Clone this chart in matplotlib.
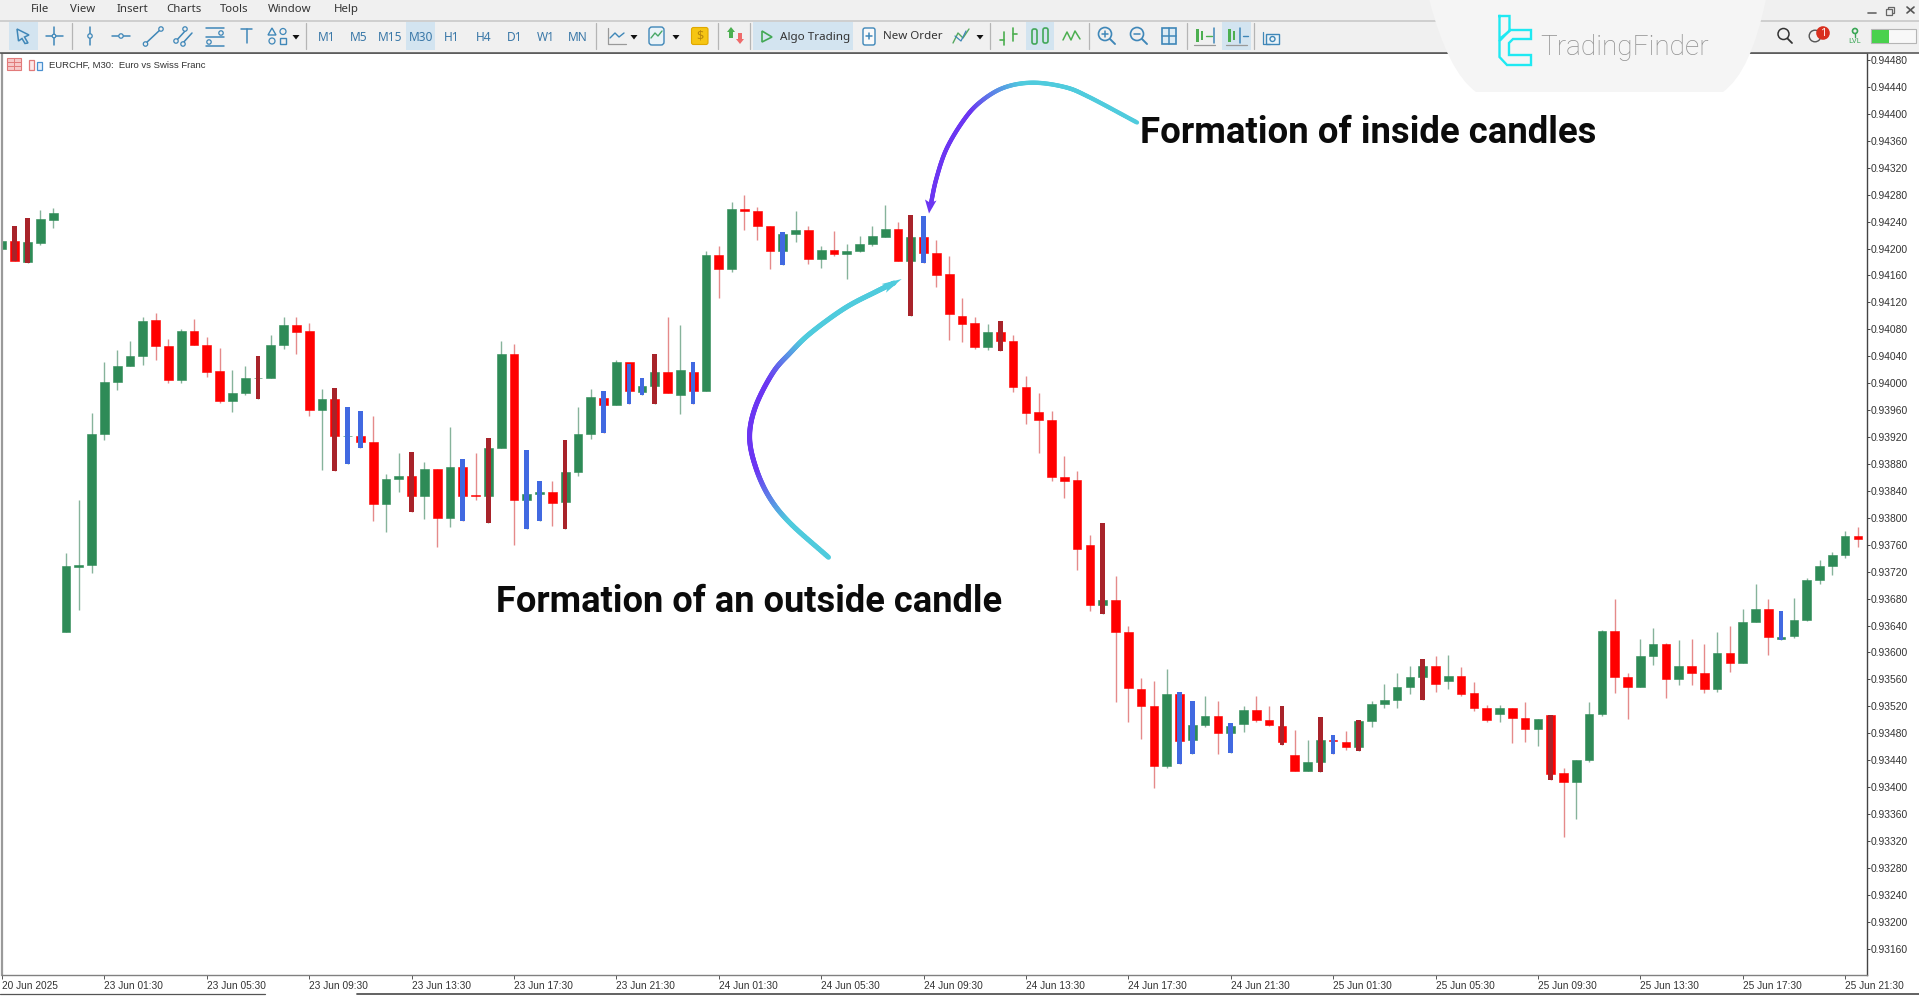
import matplotlib
matplotlib.use("Agg")
import matplotlib.pyplot as plt
import numpy as np
from matplotlib.collections import LineCollection
from matplotlib.colors import to_rgb
from matplotlib.patches import Circle, FancyBboxPatch, PathPatch, Polygon, Rectangle
from matplotlib.path import Path

# EURCHF M30 prices in points (1e-5), one value per bar
opens = [94199, 94211, 94180, 94208, 94242, 93630, 93727, 93730, 93924, 94001,
         94026, 94041, 94094, 94055, 94005, 94077, 94057, 94018, 93973, 93985,
         94008, 94008, 94057, 94087, 94077, 93960, 93977, 93922, 93922, 93913,
         93821, 93858, 93862, 93833, 93873, 93799, 93876, 93834, 93832, 93904,
         94044, 93827, 93836, 93838, 93823, 93868, 93924, 93978, 93967, 94031,
         93987, 93996, 94016, 93982, 94016, 93988, 94190, 94170, 94259, 94256,
         94233, 94197, 94222, 94227, 94184, 94198, 94192, 94196, 94207, 94217,
         94229, 94182, 94217, 94193, 94162, 94100, 94089, 94054, 94076, 94063,
         93995, 93957, 93946, 93861, 93856, 93760, 93671, 93678, 93631, 93545,
         93520, 93431, 93539, 93470, 93492, 93505, 93481, 93493, 93514, 93500,
         93491, 93447, 93424, 93437, 93470, 93467, 93460, 93498, 93524, 93529,
         93548, 93564, 93580, 93558, 93565, 93540, 93518, 93508, 93518, 93503,
         93486, 93507, 93421, 93407, 93440, 93508, 93632, 93563, 93548, 93594,
         93612, 93561, 93580, 93570, 93546, 93599, 93585, 93645, 93664, 93620,
         93625, 93648, 93707, 93729, 93745, 93773]
highs = [94211, 94233, 94245, 94257, 94260, 93747, 93826, 93955, 94032, 94049,
         94062, 94098, 94104, 94065, 94080, 94096, 94068, 94052, 94019, 94025,
         94041, 94072, 94098, 94098, 94089, 93991, 93993, 93964, 93959, 93951,
         93865, 93896, 93898, 93883, 93873, 93935, 93888, 93897, 93919, 94063,
         94058, 93900, 93855, 93854, 93916, 93964, 93991, 93989, 94035, 94029,
         94008, 94043, 94099, 94087, 94031, 94197, 94203, 94269, 94279, 94262,
         94233, 94225, 94256, 94233, 94203, 94226, 94206, 94219, 94233, 94265,
         94240, 94250, 94248, 94213, 94189, 94127, 94098, 94088, 94093, 94072,
         94011, 93986, 93958, 93892, 93869, 93775, 93793, 93713, 93639, 93562,
         93557, 93575, 93541, 93528, 93536, 93528, 93495, 93521, 93535, 93520,
         93521, 93485, 93470, 93504, 93478, 93484, 93499, 93528, 93553, 93569,
         93580, 93590, 93595, 93596, 93579, 93556, 93522, 93522, 93518, 93527,
         93501, 93507, 93428, 93440, 93527, 93634, 93680, 93570, 93620, 93636,
         93614, 93619, 93620, 93613, 93630, 93639, 93664, 93702, 93680, 93661,
         93681, 93710, 93738, 93749, 93780, 93786]
lows = [94199, 94182, 94178, 94205, 94230, 93630, 93663, 93718, 93916, 93990,
        94026, 94027, 94034, 94000, 94000, 94057, 94009, 93970, 93957, 93982,
        93977, 94008, 94050, 94043, 93951, 93871, 93870, 93880, 93903, 93796,
        93779, 93838, 93808, 93798, 93756, 93787, 93796, 93826, 93793, 93904,
        93760, 93783, 93796, 93788, 93783, 93862, 93917, 93926, 93967, 93969,
        93982, 93969, 93986, 93954, 93969, 93988, 94127, 94165, 94228, 94213,
        94170, 94175, 94209, 94177, 94171, 94189, 94155, 94195, 94203, 94217,
        94182, 94100, 94179, 94143, 94064, 94061, 94050, 94049, 94048, 93987,
        93940, 93896, 93854, 93829, 93722, 93661, 93657, 93527, 93496, 93472,
        93398, 93429, 93435, 93449, 93490, 93449, 93450, 93482, 93496, 93491,
        93463, 93424, 93424, 93422, 93449, 93455, 93454, 93490, 93517, 93517,
        93538, 93530, 93542, 93545, 93536, 93513, 93496, 93497, 93466, 93467,
        93461, 93411, 93326, 93353, 93437, 93506, 93540, 93501, 93548, 93582,
        93532, 93552, 93552, 93540, 93542, 93571, 93585, 93645, 93596, 93619,
        93622, 93646, 93701, 93715, 93741, 93756]
closes = [94211, 94182, 94209, 94244, 94253, 93728, 93730, 93924, 94001, 94026,
          94041, 94093, 94055, 94005, 94077, 94057, 94017, 93973, 93986, 94008,
          94008, 94057, 94087, 94076, 93960, 93977, 93922, 93922, 93913, 93821,
          93858, 93862, 93833, 93873, 93799, 93876, 93833, 93832, 93904, 94044,
          93827, 93836, 93839, 93822, 93868, 93925, 93979, 93967, 94031, 93988,
          93996, 94016, 93986, 94020, 93988, 94190, 94170, 94259, 94255, 94233,
          94197, 94221, 94227, 94184, 94198, 94192, 94196, 94207, 94218, 94229,
          94182, 94217, 94193, 94161, 94102, 94088, 94054, 94076, 94063, 93994,
          93956, 93945, 93860, 93855, 93754, 93671, 93678, 93630, 93547, 93520,
          93431, 93539, 93469, 93492, 93505, 93481, 93491, 93514, 93499, 93492,
          93467, 93424, 93437, 93470, 93468, 93460, 93498, 93524, 93530, 93548,
          93564, 93580, 93553, 93565, 93539, 93518, 93500, 93518, 93503, 93486,
          93501, 93420, 93407, 93440, 93508, 93632, 93563, 93548, 93595, 93612,
          93561, 93580, 93570, 93546, 93599, 93585, 93645, 93664, 93623, 93623,
          93648, 93707, 93729, 93745, 93773, 93768]

# bars the indicator paints
inside_bars = [27, 28, 36, 41, 42, 47, 49, 50, 54, 61, 72, 92, 93, 96, 104, 139]
outside_bars = [1, 2, 20, 26, 32, 38, 44, 51, 71, 78, 86, 100, 103, 106, 111, 121]

y_ticks = [0.94480, 0.94440, 0.94400, 0.94360, 0.94320, 0.94280, 0.94240, 0.94200,
           0.94160, 0.94120, 0.94080, 0.94040, 0.94000, 0.93960, 0.93920, 0.93880,
           0.93840, 0.93800, 0.93760, 0.93720, 0.93680, 0.93640, 0.93600, 0.93560,
           0.93520, 0.93480, 0.93440, 0.93400, 0.93360, 0.93320, 0.93280, 0.93240,
           0.93200, 0.93160]
x_labels = ["20 Jun 2025", "23 Jun 01:30", "23 Jun 05:30", "23 Jun 09:30", "23 Jun 13:30",
            "23 Jun 17:30", "23 Jun 21:30", "24 Jun 01:30", "24 Jun 05:30", "24 Jun 09:30",
            "24 Jun 13:30", "24 Jun 17:30", "24 Jun 21:30", "25 Jun 01:30", "25 Jun 05:30",
            "25 Jun 09:30", "25 Jun 13:30", "25 Jun 17:30", "25 Jun 21:30"]

GREEN, RED = "#2e8b57", "#ff0000"
BLUE, DARK_RED = "#4169e1", "#a8232a"
WICK_G, WICK_R = "#86b39b", "#e58a8a"
ICON = "#3f87b8"
W, H = 1919, 996
UI_FONT = "Noto Sans"
TICK_FONT = "Liberation Sans"

fig = plt.figure(figsize=(W / 100, H / 100), dpi=100, facecolor="white")

# chart area, prices through the axes' own scale
L, R, T, B = 2, 1866.5, 53, 975
ax = fig.add_axes([L / W, 1 - B / H, (R - L) / W, (B - T) / H])
n = np.arange(len(opens))
o, h, l, c = [np.array(v) / 1e5 for v in (opens, highs, lows, closes)]
up = c >= o

ax.vlines(n[up], l[up], h[up], color=WICK_G, lw=1.0, zorder=1)
ax.vlines(n[~up], l[~up], h[~up], color=WICK_R, lw=1.0, zorder=1)
bottoms = np.minimum(o, c)
heights = np.abs(c - o)
ax.bar(n[up], heights[up], 0.68, bottoms[up], color=GREEN, ec=GREEN, lw=0.4, zorder=2)
ax.bar(n[~up], heights[~up], 0.68, bottoms[~up], color=RED, ec=RED, lw=0.4, zorder=2)
ax.bar(inside_bars, h[inside_bars] - l[inside_bars], 0.36, l[inside_bars], color=BLUE, zorder=3)
ax.bar(outside_bars, h[outside_bars] - l[outside_bars], 0.36, l[outside_bars], color=DARK_RED, zorder=3)

px_to_price = 0.0004 / 26.93
ax.set_ylim(0.94480 - (B - 60) * px_to_price, 0.94480 - (T - 60) * px_to_price)
ax.set_xlim((L - 1.9) / 12.8, (R - 1.9) / 12.8)
ax.yaxis.tick_right()
ax.set_yticks(y_ticks)
ax.set_yticklabels([f"{v:.5f}" for v in y_ticks], fontsize=7.4, family=TICK_FONT, color="#333333")
ax.set_xticks(np.arange(len(x_labels)) * 8)
ax.set_xticklabels(x_labels, fontsize=7.3, family=TICK_FONT, color="#333333", ha="left")
ax.tick_params(axis="y", length=2, width=0.7, pad=0.7, color="#444444")
ax.tick_params(axis="x", length=3, width=0.7, pad=1.2, color="#555555")
for side, col, lw in (("left", "#9a9a9a", 1.6), ("bottom", "#808080", 1.0),
                      ("top", "#555555", 1.2), ("right", "#444444", 1.0)):
    ax.spines[side].set_color(col)
    ax.spines[side].set_linewidth(lw)

# everything else is placed in screen pixels on a full figure layer
ui = fig.add_axes([0, 0, 1, 1], facecolor="none")
ui.set_xlim(0, W)
ui.set_ylim(H, 0)
ui.axis("off")


def rect(x0, y0, x1, y1, fc, ec="none", lw=0, z=2):
    ui.add_patch(Rectangle((x0, y0), x1 - x0, y1 - y0, fc=fc, ec=ec, lw=lw, zorder=z))


def line(xs, ys, col=ICON, lw=1.1, z=5):
    ui.plot(xs, ys, color=col, lw=lw, zorder=z, solid_capstyle="round")


def dot(x, y, r=2.2, col=ICON, fc="#f0f0f0", lw=0.9):
    ui.add_patch(Circle((x, y), r, fc=fc, ec=col, lw=lw, zorder=5.5))


def tri_down(x, y, col="#111111"):
    ui.add_patch(Polygon([(x - 3.5, y - 2), (x + 3.5, y - 2), (x, y + 2.5)], fc=col, zorder=4))


def smooth(points, steps=24):
    # catmull-rom through the hand placed points
    p = np.array(points, float)
    p = np.vstack([2 * p[0] - p[1], p, 2 * p[-1] - p[-2]])
    out = []
    for i in range(1, len(p) - 2):
        for t in np.linspace(0, 1, steps, endpoint=False):
            out.append(0.5 * (2 * p[i] + (p[i + 1] - p[i - 1]) * t
                              + (2 * p[i - 1] - 5 * p[i] + 4 * p[i + 1] - p[i + 2]) * t ** 2
                              + (3 * p[i] - p[i - 1] - 3 * p[i + 1] + p[i + 2]) * t ** 3))
    out.append(p[-2])
    return np.array(out)


def gradient_curve(points, stops, width):
    xy = smooth(points)
    frac = np.linspace(0, 1, len(xy) - 1)
    cols = np.array([to_rgb(s[1]) for s in stops])
    where = [s[0] for s in stops]
    rgb = np.column_stack([np.interp(frac, where, cols[:, k]) for k in range(3)])
    segs = np.stack([xy[:-1], xy[1:]], axis=1)
    ui.add_collection(LineCollection(segs, colors=rgb, linewidths=width, capstyle="round", zorder=6))


# window chrome
rect(0, 0, W, 20, "#f0f0f0")
rect(0, 20, W, 52.5, "#f0f0f0")
line([0, W], [20.5, 20.5], "#c9c9c9", 1.2, 3)
line([0, W], [52.8, 52.8], "#5a5a5a", 1.2, 3)
line([0, 265], [994, 994], "#555555", 0.9, 3)
line([357, W], [994, 994], "#555555", 1.3, 3)

for name, x in zip(["File", "View", "Insert", "Charts", "Tools", "Window", "Help"],
                   [31, 70, 117, 166, 220, 268, 334]):
    ui.text(x, 9.5, name, fontsize=8.2, family=UI_FONT, color="#333333", va="center", zorder=5)

# highlighted buttons
for x0, x1 in [(9, 37.5), (406, 435), (753, 853), (1026, 1053.5), (1222, 1251)]:
    rect(x0, 22, x1, 49.5, "#d3e4f0", z=2.5)

for name, x in zip(["M1", "M5", "M15", "M30", "H1", "H4", "D1", "W1", "MN"],
                   [327, 359, 390, 421, 452, 484, 515, 546, 578]):
    ui.text(x, 37, name, fontsize=8.6, family=UI_FONT, color="#3a78a8", ha="center", va="center", zorder=5)

for x in [72, 717.5, 750, 990, 1089, 1187, 1254, 306, 596]:
    line([x, x], [23, 49], "#b5b5b5", 0.9, 3)

# drawing tools
ui.add_patch(Polygon([(17, 29), (29, 35), (24.5, 37), (28, 43), (25, 43.5), (22, 38.5), (18.5, 41)],
                     fc="none", ec=ICON, lw=1.1, zorder=4))
line([54, 54], [27, 45]); line([46, 63], [36, 36]); dot(54, 36, 1.8)
line([90, 90], [27, 45]); dot(90, 36)
line([112, 130], [36, 36]); dot(121, 36)
line([145, 161], [44, 29]); dot(145.5, 44); dot(161, 29)
line([176, 186], [41, 30]); line([182, 192], [44, 33]); dot(176, 41); dot(185, 29); dot(183, 44)
for y0, x1 in [(28, 224), (37, 224), (46, 224)]:
    line([206, x1], [y0, y0])
dot(221, 33); dot(209, 42)
line([241, 252], [29, 29]); line([246.5, 246.5], [29, 43])
ui.add_patch(Polygon([(268, 35), (276, 35), (272, 28)], fc="none", ec=ICON, lw=1, zorder=4))
dot(283, 31.5, 3); dot(272, 41, 3)
rect(279.5, 38, 286, 44, "none", ICON, 1, 4)
tri_down(296, 37)

# chart type, money and trading buttons
line([608, 608, 626], [28, 44, 44], "#999999", 0.9)
line([610, 615, 619, 624], [38, 33, 37, 33], ICON, 1)
tri_down(634, 37)
ui.add_patch(FancyBboxPatch((649, 27), 15, 18, boxstyle="round,pad=0,rounding_size=3", fc="#eaf3f8", ec=ICON, lw=1, zorder=4))
line([651, 655, 658, 662], [38, 33, 36, 31], "#48a868", 1)
tri_down(676, 37)
ui.add_patch(FancyBboxPatch((691.5, 27.5), 16.5, 17, boxstyle="round,pad=0,rounding_size=2", fc="#f6c513", ec="#e0a800", lw=0.8, zorder=4))
ui.text(699.7, 36, "$", fontsize=9, family=UI_FONT, color="#b8860b", ha="center", va="center", zorder=5)
ui.add_patch(Polygon([(731, 27), (735, 32), (733, 32), (733, 38), (729, 38), (729, 32), (727, 32)], fc="#4caf50", zorder=4))
ui.add_patch(Polygon([(740, 44), (744, 39), (742, 39), (742, 33), (738, 33), (738, 39), (736, 39)], fc="#ef6b6b", zorder=4))
ui.add_patch(Polygon([(762, 31), (772, 37), (762, 42)], fc="none", ec="#43a855", lw=1.2, zorder=4))
ui.text(780, 37, "Algo Trading", fontsize=8.4, family=UI_FONT, color="#333333", va="center", zorder=5)
ui.add_patch(FancyBboxPatch((863, 28), 12, 17, boxstyle="round,pad=0,rounding_size=2", fc="#fafafa", ec=ICON, lw=1, zorder=4))
line([866, 872], [36, 36]); line([869, 869], [33, 39])
ui.text(883, 36.5, "New Order", fontsize=8.3, family=UI_FONT, color="#333333", va="center", zorder=5)
line([953, 958, 963, 969], [43, 33, 38, 29], "#55a860", 1)
line([955, 961, 966], [36, 41, 31], ICON, 0.9)
tri_down(980, 37)

# chart mode and zoom buttons
line([1004, 1004], [32, 45], "#4caf50", 1.2); line([1000, 1004], [40, 40], "#4caf50", 1.2)
line([1013, 1013], [28, 41], "#4caf50", 1.2); line([1013, 1017], [34, 34], "#4caf50", 1.2)
for x, y0, y1 in [(1034.5, 29, 44), (1045.5, 28, 43)]:
    ui.add_patch(FancyBboxPatch((x - 2.5, y0), 5, y1 - y0, boxstyle="round,pad=0,rounding_size=2", fc="none", ec="#42a85a", lw=1.2, zorder=4))
line([1063, 1067, 1071, 1075, 1080], [40, 32, 40, 31, 39], "#4caf50", 1.1)
for x, sign in [(1105, "+"), (1137, "-")]:
    ui.add_patch(Circle((x, 34), 6.5, fc="none", ec=ICON, lw=1.2, zorder=4))
    line([x + 5, x + 10], [39, 44], ICON, 1.4)
    line([x - 3, x + 3], [34, 34])
    if sign == "+":
        line([x, x], [31, 37])
rect(1162, 27.5, 1176, 44, "#dcebf4", ICON, 1.2, 4)
line([1169, 1169], [27.5, 44]); line([1162, 1176], [36, 36])
for x, col in [(1198, "#4caf50"), (1230, "#4caf50")]:
    rect(x - 2.5, 29, x + 1, 42, col, z=4)
    rect(x + 2.5, 31, x + 5, 40, col, z=4)
    line([x - 4, x + 17], [45, 45], "#999999", 0.9)
line([1214, 1214], [28, 43], ICON, 1.1)
line([1206, 1212], [35.5, 35.5], "#4caf50", 1); line([1243, 1248], [35.5, 35.5], ICON, 1)
line([1240, 1240], [28, 43], ICON, 1.1)
line([1263, 1263, 1270], [32, 44, 44], ICON, 0.9)
rect(1266, 34, 1279, 44, "#eaf3f8", ICON, 1, 4)
ui.add_patch(Circle((1272.5, 39), 2.5, fc="none", ec=ICON, lw=1, zorder=5))

# right side of the toolbar
ui.add_patch(Circle((1783.5, 34), 5.5, fc="none", ec="#333333", lw=1.1, zorder=4))
line([1787.5, 1792], [38.5, 43], "#333333", 1.3)
ui.add_patch(Circle((1815, 36), 5.8, fc="none", ec="#555555", lw=1, zorder=4))
ui.add_patch(Circle((1823, 33), 6.8, fc="#d9301f", zorder=5))
ui.text(1823, 33, "1", fontsize=8, family=UI_FONT, color="white", ha="center", va="center", weight="bold", zorder=6)
ui.add_patch(Circle((1855, 31), 2.5, fc="none", ec="#3aa655", lw=1.2, zorder=4))
line([1855, 1855], [33, 37], "#3aa655", 1)
ui.text(1855, 41, "LVL", fontsize=5.5, family=UI_FONT, color="#3aa655", ha="center", va="center", zorder=5)
rect(1871, 29, 1915.5, 43, "#f8f8f8", "#b5b5b5", 0.8, 4)
rect(1871.5, 29.5, 1889, 42.5, "#49d14d", z=5)
line([1868, 1876], [13, 13], "#666666", 1.2)
rect(1888, 7, 1894, 13, "none", "#666666", 0.9, 4)
rect(1886, 9, 1892, 15, "#f0f0f0", "#666666", 0.9, 4.5)
line([1907, 1914], [7, 13], "#555555", 1.2); line([1907, 1914], [13, 7], "#555555", 1.2)

# chart caption
rect(7, 58, 21, 70, "#f7c9c9", "#e27a7a", 0.8, 4)
line([7, 21], [62, 62], "#e27a7a", 0.7); line([7, 21], [66, 66], "#e27a7a", 0.7); line([14, 14], [58, 70], "#e27a7a", 0.7)
rect(28.5, 60, 34, 70, "#fdeaea", "#e27a7a", 0.9, 4)
rect(36.5, 62, 42, 70, "#e8f2fb", "#4a90d0", 0.9, 4)
ui.text(49, 65, "EURCHF, M30:  Euro vs Swiss Franc", fontsize=6.8, family=TICK_FONT, color="#333333", va="center", zorder=5)

# watermark panel
codes = [Path.MOVETO, Path.CURVE3, Path.LINETO, Path.LINETO, Path.CURVE3, Path.LINETO, Path.CLOSEPOLY]
verts = [(1429, -1), (1448, 72), (1476, 92), (1723, 92), (1751, 72), (1766, -1), (1429, -1)]
ui.add_patch(PathPatch(Path(verts, codes), fc="#f5f5f5", ec="none", zorder=7))
CYAN = "#1fe9f2"
logo_a = [(1499.5, 16), (1509.5, 16), (1509.5, 31), (1499.5, 39), (1499.5, 16)]
logo_b = [(1510, 30), (1531, 30), (1531, 39), (1513, 39), (1509, 43), (1509, 55), (1531, 55), (1531, 65),
          (1507, 65), (1499.5, 57), (1499.5, 41), (1510, 30)]
for pts in (logo_a, logo_b):
    ui.plot(*zip(*pts), color=CYAN, lw=1.7, zorder=8, solid_joinstyle="miter")
ui.text(1540, 47.5, "TradingFinder", fontsize=20.2, family="Roboto", weight="light", color="#8f8f8f",
        va="center", zorder=8)

# annotations
upper = [(1137, 122.5), (1089, 97), (1064.5, 87), (1032, 82.7), (1003, 88), (979, 103),
         (962.4, 122), (946, 150), (936, 180), (930.5, 206)]
gradient_curve(upper, [(0, "#4fcbdd"), (0.38, "#4fcbdd"), (0.62, "#6b35f2"), (1, "#6b35f2")], 3.1)
ui.add_patch(Polygon([(929, 213.5), (925, 199.5), (930.5, 203), (936.5, 200.5)], fc="#6b35f2", zorder=6))

lower = [(828.5, 557.3), (790, 523), (769, 496.7), (755.5, 466.7), (749.6, 436.7), (755.5, 406.7),
         (772.7, 373), (790, 353), (810.6, 333), (845, 308), (876, 291.7), (894, 283)]
gradient_curve(lower, [(0, "#4fcbdd"), (0.1, "#4fcbdd"), (0.27, "#6b35f2"), (0.52, "#6b35f2"),
                       (0.7, "#4fcbdd"), (1, "#4fcbdd")], 3.6)
ui.add_patch(Polygon([(901.7, 279), (881.7, 284), (888, 286.5), (886, 292.7)], fc="#4fcbdd", zorder=6))

ui.text(1140, 133, "Formation of inside candles", fontsize=26.3, family="Roboto", weight="bold",
        color="#0b0b0b", va="center", zorder=7)
ui.text(496, 602, "Formation of an outside candle", fontsize=26.1, family="Roboto", weight="bold",
        color="#0b0b0b", va="center", zorder=7)

fig.savefig("out.png", dpi=100)
